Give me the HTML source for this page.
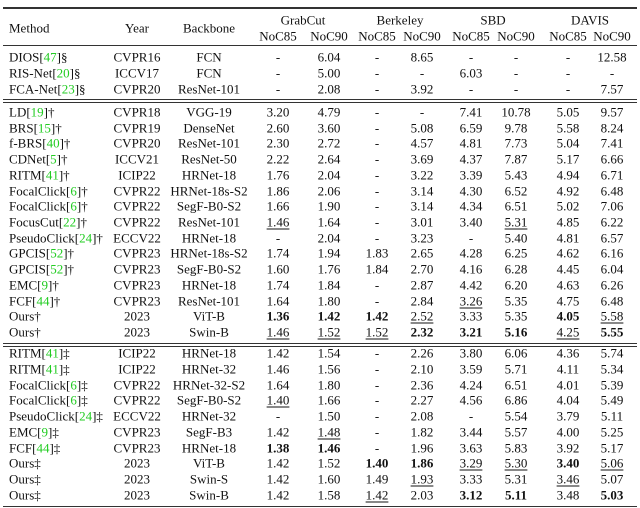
<!DOCTYPE html>
<html><head><meta charset="utf-8">
<style>
body{margin:0;background:#fff;}
#t{position:relative;width:640px;height:508px;overflow:hidden;font-family:"Liberation Serif",serif;font-size:13px;color:#111;}
.c{position:absolute;white-space:nowrap;transform:translate(-50%,-50%);line-height:1;}
.l{position:absolute;white-space:nowrap;transform:translateY(-50%);line-height:1;}
.hl{position:absolute;left:3px;width:634px;background:#333;}
.g{color:#22cc22;}
.u{text-decoration:underline;text-underline-offset:2px;}
.b{font-weight:bold;}
</style></head><body>
<div id="t">
<div class="hl" style="top:7px;height:1.5px"></div>
<div class="hl" style="top:44.5px;height:1px"></div>
<div class="hl" style="top:98.5px;height:1px"></div>
<div class="hl" style="top:101.5px;height:1px"></div>
<div class="hl" style="top:342.5px;height:1px"></div>
<div class="hl" style="top:345.5px;height:1px"></div>
<div class="hl" style="top:505.5px;height:1.5px"></div>
<div class="l" style="left:9px;top:28px">Method</div>
<div class="c" style="left:137px;top:28px">Year</div>
<div class="c" style="left:209px;top:28px">Backbone</div>
<div class="c" style="left:303px;top:20px">GrabCut</div>
<div class="c" style="left:400px;top:20px">Berkeley</div>
<div class="c" style="left:493px;top:20px">SBD</div>
<div class="c" style="left:590px;top:20px">DAVIS</div>
</div>
<script>
const colX=[278,329,377,422,471,516,568,612];
const rowY=[57,73,89,112,127.7,143.4,159.1,174.9,190.6,206.3,222,237.7,253.4,269.1,284.9,300.6,316.3,332,353,368.8,384.6,400.3,416.1,431.9,447.7,463.4,479.2,495];
const methods=[["DIOS","47","§"],["RIS-Net","20","§"],["FCA-Net","23","§"],
["LD","19","†"],["BRS","15","†"],["f-BRS","40","†"],["CDNet","5","†"],["RITM","41","†"],["FocalClick","6","†"],["FocalClick","6","†"],["FocusCut","22","†"],["PseudoClick","24","†"],["GPCIS","52","†"],["GPCIS","52","†"],["EMC","9","†"],["FCF","44","†"],["Ours","","†"],["Ours","","†"],
["RITM","41","‡"],["RITM","41","‡"],["FocalClick","6","‡"],["FocalClick","6","‡"],["PseudoClick","24","‡"],["EMC","9","‡"],["FCF","44","‡"],["Ours","","‡"],["Ours","","‡"],["Ours","","‡"]];
const years=["CVPR16","ICCV17","CVPR20","CVPR18","CVPR19","CVPR20","ICCV21","ICIP22","CVPR22","CVPR22","CVPR22","ECCV22","CVPR23","CVPR23","CVPR23","CVPR23","2023","2023","ICIP22","ICIP22","CVPR22","CVPR22","ECCV22","CVPR23","CVPR23","2023","2023","2023"];
const backbones=["FCN","FCN","ResNet-101","VGG-19","DenseNet","ResNet-101","ResNet-50","HRNet-18","HRNet-18s-S2","SegF-B0-S2","ResNet-101","HRNet-18","HRNet-18s-S2","SegF-B0-S2","HRNet-18","ResNet-101","ViT-B","Swin-B","HRNet-18","HRNet-32","HRNet-32-S2","SegF-B0-S2","HRNet-32","SegF-B3","HRNet-18","ViT-B","Swin-S","Swin-B"];
// values: prefix * = bold, _ = underline
const values=[
["-","6.04","-","8.65","-","-","-","12.58"],
["-","5.00","-","-","6.03","-","-","-"],
["-","2.08","-","3.92","-","-","-","7.57"],
["3.20","4.79","-","-","7.41","10.78","5.05","9.57"],
["2.60","3.60","-","5.08","6.59","9.78","5.58","8.24"],
["2.30","2.72","-","4.57","4.81","7.73","5.04","7.41"],
["2.22","2.64","-","3.69","4.37","7.87","5.17","6.66"],
["1.76","2.04","-","3.22","3.39","5.43","4.94","6.71"],
["1.86","2.06","-","3.14","4.30","6.52","4.92","6.48"],
["1.66","1.90","-","3.14","4.34","6.51","5.02","7.06"],
["_1.46","1.64","-","3.01","3.40","_5.31","4.85","6.22"],
["-","2.04","-","3.23","-","5.40","4.81","6.57"],
["1.74","1.94","1.83","2.65","4.28","6.25","4.62","6.16"],
["1.60","1.76","1.84","2.70","4.16","6.28","4.45","6.04"],
["1.74","1.84","-","2.87","4.42","6.20","4.63","6.26"],
["1.64","1.80","-","2.84","_3.26","5.35","4.75","6.48"],
["*1.36","*1.42","*1.42","_2.52","3.33","5.35","*4.05","_5.58"],
["_1.46","_1.52","_1.52","*2.32","*3.21","*5.16","_4.25","*5.55"],
["1.42","1.54","-","2.26","3.80","6.06","4.36","5.74"],
["1.46","1.56","-","2.10","3.59","5.71","4.11","5.34"],
["1.64","1.80","-","2.36","4.24","6.51","4.01","5.39"],
["_1.40","1.66","-","2.27","4.56","6.86","4.04","5.49"],
["-","1.50","-","2.08","-","5.54","3.79","5.11"],
["1.42","_1.48","-","1.82","3.44","5.57","4.00","5.25"],
["*1.38","*1.46","-","1.96","3.63","5.83","3.92","5.17"],
["1.42","1.52","*1.40","*1.86","_3.29","_5.30","*3.40","_5.06"],
["1.42","1.60","1.49","_1.93","3.33","5.31","_3.46","5.07"],
["1.42","1.58","_1.42","2.03","*3.12","*5.11","3.48","*5.03"]];
const sub=["NoC85","NoC90","NoC85","NoC90","NoC85","NoC90","NoC85","NoC90"];
const T=document.getElementById('t');
sub.forEach((s,i)=>{const d=document.createElement('div');d.className='c';d.style.left=colX[i]+'px';d.style.top='36px';d.textContent=s;


T.appendChild(d);});
methods.forEach((m,r)=>{
 const y=rowY[r];
 const d=document.createElement('div');d.className='l';d.style.left='9px';d.style.top=y+'px';
 d.innerHTML=m[0]+(m[1]?'[<span class="g">'+m[1]+'</span>]':'')+m[2];
 
 
 T.appendChild(d);
 const a=document.createElement('div');a.className='c';a.style.left='137px';a.style.top=y+'px';a.textContent=years[r];
 
 
 T.appendChild(a);
 const b=document.createElement('div');b.className='c';b.style.left='209px';b.style.top=y+'px';b.textContent=backbones[r];
 
 
 T.appendChild(b);
 values[r].forEach((v,i)=>{
  const e=document.createElement('div');e.className='c';e.style.left=colX[i]+'px';e.style.top=y+'px';
  let t=v;if(t[0]=='*'){e.classList.add('b');t=t.slice(1);}else if(t[0]=='_'){e.classList.add('u');t=t.slice(1);}
  e.textContent=t;
  
  
  T.appendChild(e);
 });
});
</script>
</body></html>
